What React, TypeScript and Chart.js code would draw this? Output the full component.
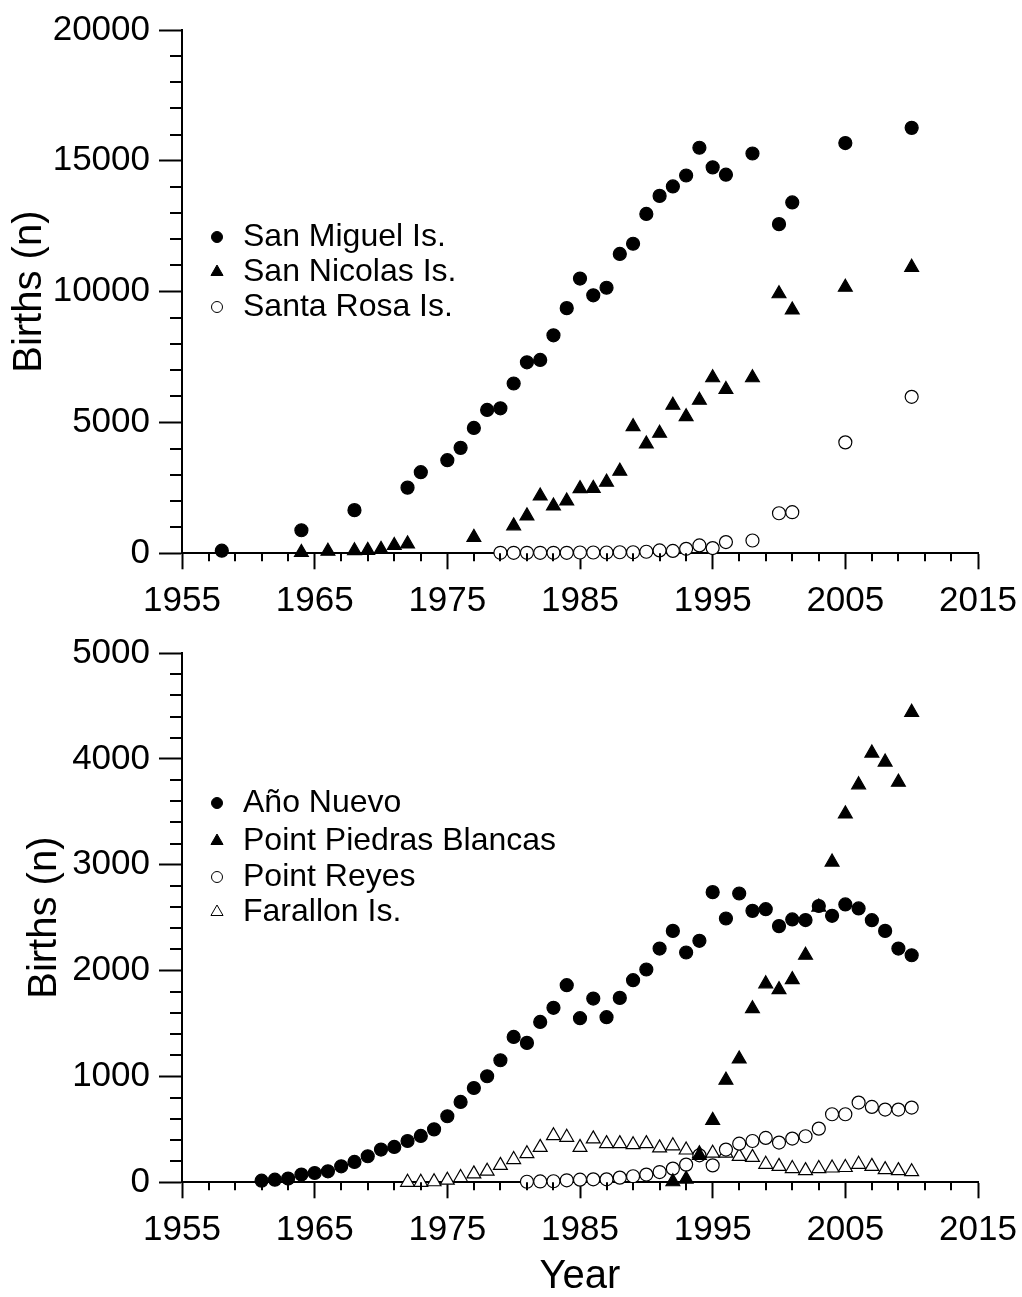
import React, { useEffect, useRef } from 'react';
import { Chart, registerables } from 'chart.js';
import { drawPoint } from 'chart.js/helpers';

Chart.register(...registerables);

const FONT = '"Liberation Sans", Arial, Helvetica, sans-serif';

// ---------- Tick values ----------
const xTickValues = [1955, 1965, 1975, 1985, 1995, 2005, 2015];
const topYTickValues = [0, 5000, 10000, 15000, 20000];
const bottomYTickValues = [0, 1000, 2000, 3000, 4000, 5000];

// ---------- Top panel ----------
const sanMiguelYears = [1958, 1964, 1968, 1972, 1973, 1975, 1976, 1977, 1978, 1979, 1980, 1981, 1982, 1983, 1984, 1985, 1986, 1987, 1988, 1989, 1990, 1991, 1992, 1993, 1994, 1995, 1996, 1998, 2000, 2001, 2005, 2010];
const sanMiguelBirths = [100, 880, 1650, 2510, 3100, 3560, 4030, 4790, 5480, 5540, 6490, 7300, 7390, 8330, 9370, 10500, 9860, 10150, 11440, 11830, 12970, 13660, 14020, 14440, 15500, 14750, 14470, 15280, 12580, 13410, 15680, 16260];

const sanNicolasYears = [1964, 1966, 1968, 1969, 1970, 1971, 1972, 1977, 1980, 1981, 1982, 1983, 1984, 1985, 1986, 1987, 1988, 1989, 1990, 1991, 1992, 1993, 1994, 1995, 1996, 1998, 2000, 2001, 2005, 2010];
const sanNicolasBirths = [30, 80, 100, 110, 150, 300, 360, 610, 1050, 1430, 2190, 1810, 2000, 2470, 2480, 2720, 3140, 4840, 4180, 4590, 5660, 5220, 5850, 6710, 6260, 6710, 9920, 9300, 10170, 10930];

const santaRosaYears = [1979, 1980, 1981, 1982, 1983, 1984, 1985, 1986, 1987, 1988, 1989, 1990, 1991, 1992, 1993, 1994, 1995, 1996, 1998, 2000, 2001, 2005, 2010];
const santaRosaBirths = [20, 20, 20, 20, 20, 20, 30, 30, 30, 40, 40, 60, 110, 90, 170, 300, 200, 430, 490, 1530, 1570, 4240, 5980];

// ---------- Bottom panel ----------
const anoNuevoYears = [1961, 1962, 1963, 1964, 1965, 1966, 1967, 1968, 1969, 1970, 1971, 1972, 1973, 1974, 1975, 1976, 1977, 1978, 1979, 1980, 1981, 1982, 1983, 1984, 1985, 1986, 1987, 1988, 1989, 1990, 1991, 1992, 1993, 1994, 1995, 1996, 1997, 1998, 1999, 2000, 2001, 2002, 2003, 2004, 2005, 2006, 2007, 2008, 2009, 2010];
const anoNuevoBirths = [15, 25, 35, 73, 88, 104, 151, 192, 246, 309, 334, 390, 438, 500, 624, 759, 891, 1002, 1153, 1373, 1317, 1515, 1648, 1862, 1550, 1736, 1560, 1742, 1909, 2010, 2208, 2375, 2171, 2281, 2741, 2492, 2728, 2564, 2580, 2420, 2483, 2477, 2610, 2517, 2625, 2587, 2476, 2375, 2208, 2145];

const piedrasYears = [1992, 1993, 1994, 1995, 1996, 1997, 1998, 1999, 2000, 2001, 2002, 2003, 2004, 2005, 2006, 2007, 2008, 2009, 2010];
const piedrasBirths = [5, 30, 255, 585, 965, 1165, 1640, 1875, 1820, 1915, 2145, 2600, 3025, 3480, 3755, 4055, 3970, 3780, 4440];

const reyesYears = [1981, 1982, 1983, 1984, 1985, 1986, 1987, 1988, 1989, 1990, 1991, 1992, 1993, 1994, 1995, 1996, 1997, 1998, 1999, 2000, 2001, 2002, 2003, 2004, 2005, 2006, 2007, 2008, 2009, 2010];
const reyesBirths = [5, 8, 10, 19, 25, 28, 28, 44, 57, 73, 97, 129, 167, 255, 160, 309, 365, 390, 419, 375, 413, 435, 507, 643, 643, 753, 712, 687, 687, 706];

const farallonYears = [1972, 1973, 1974, 1975, 1976, 1977, 1978, 1979, 1980, 1981, 1982, 1983, 1984, 1985, 1986, 1987, 1988, 1989, 1990, 1991, 1992, 1993, 1994, 1995, 1996, 1997, 1998, 1999, 2000, 2001, 2002, 2003, 2004, 2005, 2006, 2007, 2008, 2009, 2010];
const farallonBirths = [0, 0, 5, 20, 45, 80, 105, 160, 215, 270, 330, 440, 425, 330, 410, 365, 365, 355, 365, 325, 345, 305, 270, 275, 275, 245, 235, 170, 150, 130, 110, 130, 135, 140, 170, 150, 120, 110, 100];

const toPoints = (xs: number[], ys: number[]) => xs.map((x, i) => ({ x, y: ys[i] }));

type Marker = 'filledCircle' | 'filledTriangle' | 'openCircle' | 'openTriangle';

const makeDataset = (label: string, xs: number[], ys: number[], marker: Marker) => {
  const filled = marker.startsWith('filled');
  const circle = marker.endsWith('Circle');
  return {
    label,
    data: toPoints(xs, ys),
    pointStyle: circle ? 'circle' : 'triangle',
    pointRadius: circle ? 6.5 : 8,
    pointHoverRadius: circle ? 6.5 : 8,
    backgroundColor: filled ? '#000000' : '#ffffff',
    borderColor: '#000000',
    borderWidth: 1.2,
    clip: false as const,
    legendRadius: circle ? 5.5 : 7,
  };
};

const minorTicksPlugin = {
  id: 'minorTicks',
  afterDraw(chart: any, _args: any, opts: any) {
    const ctx = chart.ctx;
    ctx.save();
    ctx.strokeStyle = '#000';
    ctx.lineWidth = 2;
    (['x', 'y'] as const).forEach((id) => {
      const cfg = opts[id];
      if (!cfg) return;
      const scale = chart.scales[id];
      const n = Math.round((scale.max - scale.min) / cfg.step);
      const every = Math.round(cfg.major / cfg.step);
      for (let i = 0; i <= n; i++) {
        if (i % every === 0) continue;
        const v = scale.min + i * cfg.step;
        const p = Math.round(scale.getPixelForValue(v));
        ctx.beginPath();
        if (id === 'x') {
          ctx.moveTo(p, scale.top);
          ctx.lineTo(p, scale.top + cfg.length);
        } else {
          ctx.moveTo(scale.right, p);
          ctx.lineTo(scale.right - cfg.length, p);
        }
        ctx.stroke();
      }
    });
    ctx.restore();
  },
};

const insetLegendPlugin = {
  id: 'insetLegend',
  afterDatasetsDraw(chart: any, _args: any, opts: any) {
    const ctx = chart.ctx;
    chart.data.datasets.forEach((ds: any, i: number) => {
      const y = opts.rows[i];
      ctx.save();
      ctx.fillStyle = ds.backgroundColor;
      ctx.strokeStyle = ds.borderColor;
      ctx.lineWidth = 1;
      drawPoint(ctx, { pointStyle: ds.pointStyle, radius: ds.legendRadius, rotation: 0, borderWidth: 1 } as any, opts.markerX, y);
      ctx.fillStyle = '#000';
      ctx.font = `${opts.fontSize}px ${FONT}`;
      ctx.textBaseline = 'middle';
      ctx.textAlign = 'left';
      ctx.fillText(ds.label, opts.textX, y);
      ctx.restore();
    });
  },
};

interface PanelProps {
  datasets: any[];
  yTicks: number[];
  yMax: number;
  yMinorStep: number;
  width: number;
  height: number;
  padTop: number;
  xAxisHeight: number;
  yTitlePad: number;
  showXTitle: boolean;
  legendRows: number[];
}

function Panel(props: PanelProps) {
  const ref = useRef<HTMLCanvasElement>(null);
  useEffect(() => {
    if (!ref.current) return;
    const tickFont = { family: FONT, size: 35 };
    const chart = new Chart(ref.current, {
      type: 'scatter',
      data: { datasets: props.datasets },
      plugins: [minorTicksPlugin, insetLegendPlugin],
      options: {
        animation: false,
        responsive: false,
        maintainAspectRatio: false,
        events: [],
        layout: { padding: { top: props.padTop, right: 44, left: 0, bottom: 0 } },
        plugins: {
          legend: { display: false },
          tooltip: { enabled: false },
          minorTicks: {
            x: { step: 2, major: 10, length: 8 },
            y: { step: props.yMinorStep, major: props.yTicks[1] - props.yTicks[0], length: 12 },
          },
          insetLegend: { rows: props.legendRows, markerX: 217, textX: 243, fontSize: 32 },
        } as any,
        scales: {
          x: {
            type: 'linear',
            min: xTickValues[0],
            max: xTickValues[xTickValues.length - 1],
            afterBuildTicks: (scale: any) => {
              scale.ticks = xTickValues.map((value) => ({ value }));
            },
            afterFit: (scale: any) => {
              scale.height = props.xAxisHeight;
              scale.paddingLeft = 0;
              scale.paddingRight = 0;
            },
            ticks: {
              font: tickFont,
              color: '#000',
              padding: 11,
              maxRotation: 0,
              autoSkip: false,
              callback: (v: any) => String(v),
            },
            grid: {
              display: true,
              drawOnChartArea: false,
              drawTicks: true,
              tickLength: 16,
              tickWidth: 2,
              tickColor: '#000',
            },
            border: { display: true, color: '#000', width: 2 },
            title: {
              display: props.showXTitle,
              text: 'Year',
              color: '#000',
              font: { family: FONT, size: 40, lineHeight: 1 },
              padding: { top: 0, bottom: 0 },
            },
          },
          y: {
            type: 'linear',
            min: 0,
            max: props.yMax,
            afterBuildTicks: (scale: any) => {
              scale.ticks = props.yTicks.map((value) => ({ value }));
            },
            afterFit: (scale: any) => {
              scale.width = 182;
            },
            ticks: {
              font: tickFont,
              color: '#000',
              padding: 9,
              autoSkip: false,
              callback: (v: any) => String(v),
            },
            grid: {
              display: true,
              drawOnChartArea: false,
              drawTicks: true,
              tickLength: 23,
              tickWidth: 2,
              tickColor: '#000',
            },
            border: { display: true, color: '#000', width: 2 },
            title: {
              display: true,
              text: 'Births (n)',
              color: '#000',
              font: { family: FONT, size: 40, lineHeight: 1 },
              padding: { top: props.yTitlePad, bottom: 0 },
            },
          },
        },
      } as any,
    });
    return () => chart.destroy();
  }, []);
  return <canvas ref={ref} width={props.width} height={props.height} style={{ display: 'block' }} />;
}

export default function App() {
  const topDatasets = [
    makeDataset('San Miguel Is.', sanMiguelYears, sanMiguelBirths, 'filledCircle'),
    makeDataset('San Nicolas Is.', sanNicolasYears, sanNicolasBirths, 'filledTriangle'),
    makeDataset('Santa Rosa Is.', santaRosaYears, santaRosaBirths, 'openCircle'),
  ];
  const bottomDatasets = [
    makeDataset('Año Nuevo', anoNuevoYears, anoNuevoBirths, 'filledCircle'),
    makeDataset('Point Piedras Blancas', piedrasYears, piedrasBirths, 'filledTriangle'),
    makeDataset('Point Reyes', reyesYears, reyesBirths, 'openCircle'),
    makeDataset('Farallon Is.', farallonYears, farallonBirths, 'openTriangle'),
  ];
  return (
    <div style={{ position: 'absolute', left: 0, top: 0, width: 1022, height: 1297, background: '#fff' }}>
      <div style={{ position: 'absolute', left: 0, top: 0 }}>
        <Panel
          datasets={topDatasets}
          yTicks={topYTickValues}
          yMax={20000}
          yMinorStep={1000}
          width={1022}
          height={620}
          padTop={24}
          xAxisHeight={66.7}
          yTitlePad={10}
          showXTitle={false}
          legendRows={[237, 272, 307]}
        />
      </div>
      <div style={{ position: 'absolute', left: 0, top: 620 }}>
        <Panel
          datasets={bottomDatasets}
          yTicks={bottomYTickValues}
          yMax={5000}
          yMinorStep={200}
          width={1022}
          height={677}
          padTop={33}
          xAxisHeight={114.7}
          yTitlePad={25}
          showXTitle={true}
          legendRows={[183, 221, 257, 292]}
        />
      </div>
    </div>
  );
}
